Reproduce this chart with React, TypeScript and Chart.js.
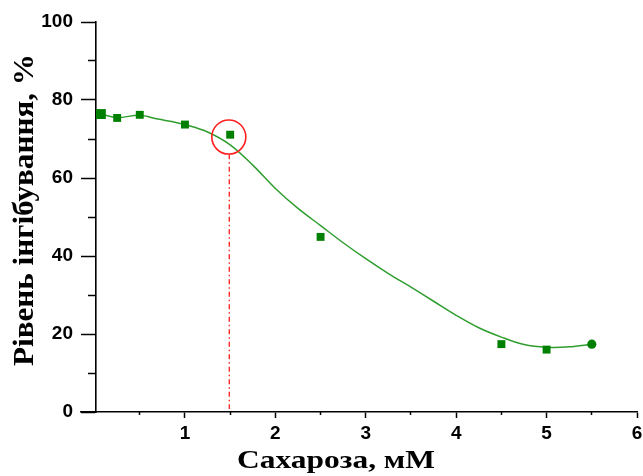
import React, { useEffect, useRef } from 'react';
import { Chart, registerables } from 'chart.js';

Chart.register(...registerables);

// Measured data (sucrose, mM -> inhibition level, %)
const sucroseMeasured = [0.07, 0.25, 0.5, 1.0, 1.5, 2.5, 4.5, 5.0, 5.5];
const inhibitionMeasured = [76.4, 75.4, 76.2, 73.7, 71.1, 44.9, 17.4, 16.0, 17.4];

// Fitted curve
const fitSucrose = [0.07, 0.25, 0.5, 0.7, 0.87, 1.0, 1.25, 1.5, 1.75, 2.0, 2.25, 2.5, 2.75, 3.0, 3.25, 3.5, 3.75, 4.0, 4.25, 4.5, 4.75, 5.0, 5.25, 5.5];
const fitInhibition = [76.4, 75.5, 76.1, 75.1, 74.4, 73.7, 71.8, 68.5, 63.3, 57.3, 52.2, 47.8, 43.4, 39.3, 35.5, 32.0, 28.4, 24.8, 21.6, 19.2, 17.3, 16.6, 16.7, 17.4];

// Highlighted point (circle) and drop line
const highlightX = [1.485];
const highlightY = [70.5];
const dropLineX = [1.49, 1.49];
const dropLineY = [66.1, 0.8];

// Axis ticks
const xMajorTicks = [1, 2, 3, 4, 5, 6];
const xMinorTicks = [0.5, 1.5, 2.5, 3.5, 4.5, 5.5];
const yMajorTicks = [0, 20, 40, 60, 80, 100];
const yMinorTicks = [10, 30, 50, 70, 90];

const xTitle = 'Сахароза, мМ';
const yTitle = 'Рівень інгібування, %';

const GREEN = '#008000';
const LINE_GREEN = '#2f9e2f';

const titlePlugin = {
  id: 'axisTitles',
  afterDraw(chart: any) {
    const ctx = chart.ctx as CanvasRenderingContext2D;
    ctx.save();
    ctx.fillStyle = '#000';
    ctx.textAlign = 'center';
    ctx.textBaseline = 'alphabetic';
    ctx.font = 'bold 25px "Liberation Serif"';
    const wx = ctx.measureText(xTitle).width;
    ctx.translate(336, 468);
    ctx.scale(198 / wx, 1);
    ctx.fillText(xTitle, 0, 0);
    ctx.restore();

    ctx.save();
    ctx.fillStyle = '#000';
    ctx.textAlign = 'center';
    ctx.textBaseline = 'alphabetic';
    ctx.font = 'bold 29px "Liberation Serif"';
    const wy = ctx.measureText(yTitle).width;
    ctx.translate(33, 210);
    ctx.rotate(-Math.PI / 2);
    ctx.scale(312 / wy, 1);
    ctx.fillText(yTitle, 0, 0);
    ctx.restore();
  },
};

const tickFont = { family: 'Liberation Sans', weight: 'bold' as const, size: 19 };

export default function App() {
  const ref = useRef<HTMLCanvasElement | null>(null);

  useEffect(() => {
    document.body.style.margin = '0';
    const canvas = ref.current;
    if (!canvas) return;

    const measured = sucroseMeasured.map((x, i) => ({ x, y: inhibitionMeasured[i] }));
    const fit = fitSucrose.map((x, i) => ({ x, y: fitInhibition[i] }));
    const highlight = highlightX.map((x, i) => ({ x, y: highlightY[i] }));
    const drop = dropLineX.map((x, i) => ({ x, y: dropLineY[i] }));
    const n = measured.length;

    const chart = new Chart(canvas, {
      type: 'scatter',
      data: {
        datasets: [
          {
            type: 'scatter',
            label: 'measured',
            data: measured,
            pointStyle: measured.map((_, i) => (i === n - 1 ? 'circle' : 'rect')) as any,
            pointRadius: measured.map((_, i) => (i === 0 ? 7 : i === n - 1 ? 4.6 : 5.6)),
            backgroundColor: GREEN,
            borderColor: GREEN,
            borderWidth: 0,
            order: 1,
          },
          {
            type: 'line',
            label: 'fit',
            data: fit,
            borderColor: LINE_GREEN,
            borderWidth: 1.5,
            pointRadius: 0,
            tension: 0.35,
            fill: false,
            order: 2,
          },
          {
            type: 'scatter',
            label: 'highlight',
            data: highlight,
            pointStyle: 'circle',
            pointRadius: 17,
            backgroundColor: 'rgba(0,0,0,0)',
            borderColor: '#ff2020',
            borderWidth: 1.6,
            order: 0,
          },
          {
            type: 'line',
            label: 'drop',
            data: drop,
            borderColor: '#ff1a1a',
            borderWidth: 1.3,
            borderDash: [5, 3, 1.5, 3],
            pointRadius: 0,
            fill: false,
            order: 3,
          },
        ],
      },
      options: {
        responsive: false,
        animation: false,
        events: [],
        layout: { autoPadding: false, padding: { left: 0, right: 6, top: 22, bottom: 0 } },
        plugins: { legend: { display: false }, tooltip: { enabled: false }, title: { display: false } },
        scales: {
          x: {
            type: 'linear',
            position: 'bottom',
            min: -0.15,
            max: 6,
            afterBuildTicks: (s: any) => { s.ticks = xMajorTicks.map((v) => ({ value: v })); },
            afterFit: (s: any) => { s.height = 64; s.paddingLeft = 0; s.paddingRight = 0; },
            ticks: { font: tickFont, color: '#000', padding: 4, maxRotation: 0, autoSkip: false },
            grid: { drawOnChartArea: false, tickLength: 6, tickWidth: 1.5, tickColor: '#000' },
            border: { display: true, color: '#000', width: 1.6 },
          },
          x2: {
            type: 'linear',
            position: { y: 0 } as any,
            min: -0.15,
            max: 6,
            afterBuildTicks: (s: any) => { s.ticks = xMinorTicks.map((v) => ({ value: v })); },
            afterFit: (s: any) => { s.paddingLeft = 0; s.paddingRight = 0; },
            ticks: { display: false },
            grid: { drawOnChartArea: false, tickLength: 3, tickWidth: 1.5, tickColor: '#000' },
            border: { display: false },
          },
          yLabels: {
            type: 'linear',
            position: 'left',
            min: 0,
            max: 100,
            afterBuildTicks: (s: any) => { s.ticks = yMajorTicks.map((v) => ({ value: v })); },
            afterFit: (s: any) => { s.width = 81; },
            ticks: { font: tickFont, color: '#000', padding: 8 },
            grid: { display: false, drawTicks: false },
            border: { display: false },
          },
          y: {
            type: 'linear',
            position: { x: 0.015 } as any,
            min: 0,
            max: 100,
            afterBuildTicks: (s: any) => { s.ticks = yMajorTicks.map((v) => ({ value: v })); },
            ticks: { display: false },
            grid: { drawOnChartArea: false, tickLength: 14, tickWidth: 1.5, tickColor: '#000' },
            border: { display: true, color: '#000', width: 1.6 },
          },
          y2: {
            type: 'linear',
            position: { x: 0.015 } as any,
            min: 0,
            max: 100,
            afterBuildTicks: (s: any) => { s.ticks = yMinorTicks.map((v) => ({ value: v })); },
            ticks: { display: false },
            grid: { drawOnChartArea: false, tickLength: 8, tickWidth: 1.5, tickColor: '#000' },
            border: { display: false },
          },
        },
      },
      plugins: [titlePlugin],
    } as any);

    return () => chart.destroy();
  }, []);

  return (
    <div style={{ width: 643, height: 476 }}>
      <canvas ref={ref} width={643} height={476} />
    </div>
  );
}
